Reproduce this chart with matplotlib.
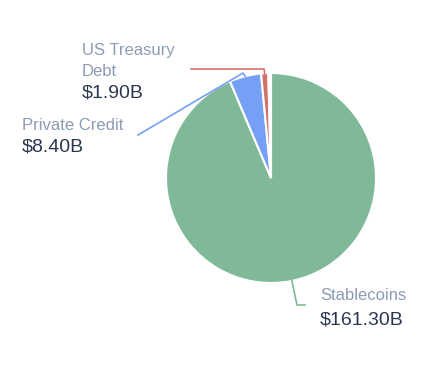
import numpy as np
import matplotlib.pyplot as plt

plt.rcParams['font.family'] = ['Liberation Sans', 'DejaVu Sans']

# данные
categories = ['Stablecoins', 'Private Credit', 'US Treasury\nDebt', 'Other A', 'Other B']
values = [161.30, 8.40, 1.90, 0.40, 0.30]
value_labels = ['$161.30B', '$8.40B', '$1.90B', '', '']
colors = ['#80b998', '#76a0f5', '#d2716c', '#e9b48a', '#efd27a']

W, H = 443, 383
fig = plt.figure(figsize=(W / 100, H / 100), dpi=100)
ax = fig.add_axes([0, 0, 1, 1])
ax.axis('off')

cx, cy, r = 271, H - 178, 105
wedges, _ = ax.pie(values, colors=colors, startangle=90, counterclock=False,
                   center=(cx, cy), radius=r,
                   wedgeprops=dict(edgecolor='white', linewidth=1.5))
ax.set_xlim(0, W)
ax.set_ylim(0, H)
ax.set_aspect('equal')

name_color = '#8d9bb6'
value_color = '#2b3650'

# выноски: точки ломаной (в пикселях сверху) и позиция текста
callouts = {
    0: dict(path=[(297, 305), (305, 305)], text=(320, 296), step=24),
    1: dict(path=[(243, 73), (138, 135)], text=(22, 126), step=21),
    2: dict(path=[(264, 69), (191, 69)], text=(82, 51), step=22),
}

for i, cfg in callouts.items():
    w = wedges[i]
    ang = np.deg2rad((w.theta1 + w.theta2) / 2)
    x0 = cx + r * np.cos(ang)
    y0 = cy + r * np.sin(ang)
    xs = [x0] + [p[0] for p in cfg['path']]
    ys = [y0] + [H - p[1] for p in cfg['path']]
    ax.plot(xs, ys, color=colors[i], lw=1.2)
    tx, ty = cfg['text']
    lines = categories[i].split('\n')
    for k, line in enumerate(lines):
        ax.text(tx, H - (ty + k * 20), line, color=name_color, fontsize=12,
                ha='left', va='center')
    ax.text(tx, H - (ty + (len(lines) - 1) * 20 + cfg['step']), value_labels[i],
            color=value_color, fontsize=14, ha='left', va='center')

plt.savefig('out.png', dpi=100)
plt.close()
